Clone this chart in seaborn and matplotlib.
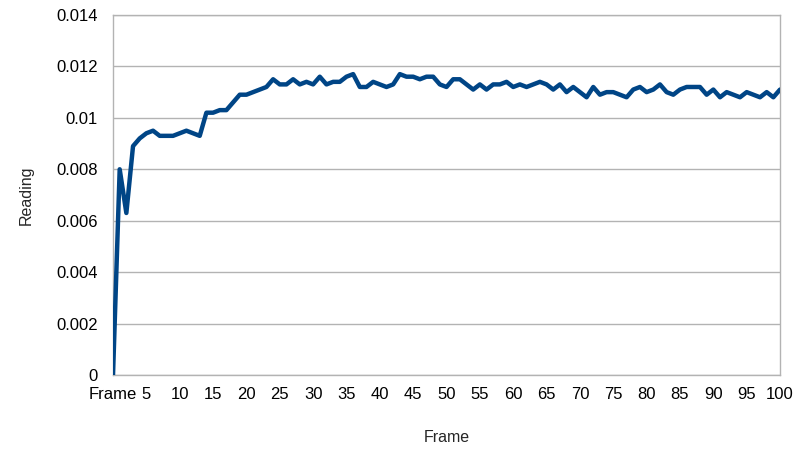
import numpy as np
import pandas as pd
import matplotlib
matplotlib.use("Agg")
import matplotlib.pyplot as plt
import seaborn as sns

sns.set_style("white")
plt.rcParams['font.family'] = ['Liberation Sans', 'DejaVu Sans']

# category labels: the header cell "Frame" ended up as the first category
frames = ["Frame"] + [str(i) for i in range(1, 101)]
readings = [
    0.0, 0.0080, 0.0063, 0.0089, 0.0092, 0.0094, 0.0095, 0.0093, 0.0093, 0.0093,
    0.0094, 0.0095, 0.0094, 0.0093, 0.0102, 0.0102, 0.0103, 0.0103, 0.0106, 0.0109,
    0.0109, 0.0110, 0.0111, 0.0112, 0.0115, 0.0113, 0.0113, 0.0115, 0.0113, 0.0114,
    0.0113, 0.0116, 0.0113, 0.0114, 0.0114, 0.0116, 0.0117, 0.0112, 0.0112, 0.0114,
    0.0113, 0.0112, 0.0113, 0.0117, 0.0116, 0.0116, 0.0115, 0.0116, 0.0116, 0.0113,
    0.0112, 0.0115, 0.0115, 0.0113, 0.0111, 0.0113, 0.0111, 0.0113, 0.0113, 0.0114,
    0.0112, 0.0113, 0.0112, 0.0113, 0.0114, 0.0113, 0.0111, 0.0113, 0.0110, 0.0112,
    0.0110, 0.0108, 0.0112, 0.0109, 0.0110, 0.0110, 0.0109, 0.0108, 0.0111, 0.0112,
    0.0110, 0.0111, 0.0113, 0.0110, 0.0109, 0.0111, 0.0112, 0.0112, 0.0112, 0.0109,
    0.0111, 0.0108, 0.0110, 0.0109, 0.0108, 0.0110, 0.0109, 0.0108, 0.0110, 0.0108,
    0.0111,
]
yticks = [0, 0.002, 0.004, 0.006, 0.008, 0.01, 0.012, 0.014]
ytick_labels = ["0", "0.002", "0.004", "0.006", "0.008", "0.01", "0.012", "0.014"]

df = pd.DataFrame(dict(pos=np.arange(len(frames)), Reading=readings))

fig = plt.figure(figsize=(7.97, 4.61), dpi=100)
ax = fig.add_axes([0.1418, 0.1866, 0.8369, 0.7809])

sns.lineplot(data=df, x="pos", y="Reading", color="#004586", linewidth=3.2,
             ax=ax, zorder=3)

ax.set_xlim(0, len(frames) - 1)
ax.set_ylim(0, 0.014)
ax.set_yticks(yticks)
ax.set_yticklabels(ytick_labels)
ax.set_xticks(df.pos)
ax.set_xticklabels([f if (i == 0 or i % 5 == 0) else "" for i, f in enumerate(frames)])
ax.yaxis.grid(True, color="#b3b3b3", linewidth=1)
ax.xaxis.grid(False)
for s in ax.spines.values():
    s.set_color("#b3b3b3")
    s.set_linewidth(1)
ax.tick_params(axis="x", length=5, width=1, color="#b3b3b3", pad=4,
               labelsize=12, labelcolor="#000000")
ax.tick_params(axis="y", length=0, pad=11, labelsize=12, labelcolor="#000000")
ax.set_xlabel("Frame", fontsize=11.5, labelpad=20)
ax.set_ylabel("Reading", fontsize=11.5, labelpad=16)

fig.savefig("out.png", dpi=100)
